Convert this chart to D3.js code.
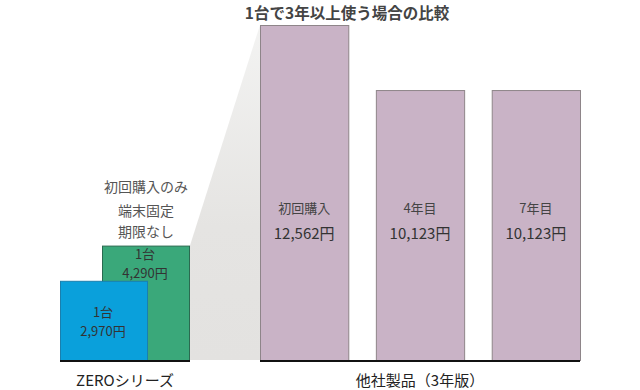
<!DOCTYPE html>
<html>
<head>
<meta charset="utf-8">
<script src="https://cdn.jsdelivr.net/npm/d3@7"></script>
<style>
  body { margin: 0; background: #fff; }
  text { font-family: "Noto Sans CJK JP", "Noto Sans", sans-serif; fill: #333; }
</style>
</head>
<body>
<svg id="chart" width="640" height="390"></svg>
<script>
var zeroKeys = ['blue', 'green'],
    zeroValues = [2970, 4290],
    zeroLabels = ['2,970円', '4,290円'],
    zeroColors = ['#0aa0db', '#3aa87a'],
    zeroStroke = ['#1a7fae', '#2a6a50'];

var otherCats = ['初回購入', '4年目', '7年目'],
    otherValues = [12562, 10123, 10123],
    otherLabels = ['12,562円', '10,123円', '10,123円'];

var svg = d3.select('#chart'),
    base = 360;

var y = d3.scaleLinear()
    .domain([0, 12562])
    .range([base, 25]);

var xZero = d3.scalePoint()
    .domain(zeroKeys)
    .range([60, 102]),
    zeroW = 87;

var xOther = d3.scaleBand()
    .domain(otherCats)
    .range([260, 580])
    .paddingInner(0.238)
    .paddingOuter(0);

// gray connector
var defs = svg.append('defs');
var grad = defs.append('linearGradient')
    .attr('id', 'fade')
    .attr('x1', 0).attr('y1', 0).attr('x2', 0).attr('y2', 1);
grad.append('stop').attr('offset', '0%').attr('stop-color', '#f3f3f2');
grad.append('stop').attr('offset', '60%').attr('stop-color', '#e5e4e2');
grad.append('stop').attr('offset', '100%').attr('stop-color', '#e3e2e0');

var gx = xZero('green') + zeroW + 1,
    px = xOther(otherCats[0]);
svg.append('path')
    .attr('d', 'M' + gx + ',' + y(zeroValues[1]) +
               'L' + px + ',' + y(otherValues[0]) +
               'L' + px + ',' + base +
               'L' + gx + ',' + base + 'Z')
    .attr('fill', 'url(#fade)');

// ZERO bars (green behind blue)
var zeroData = zeroKeys.map(function(k, i) {
    return { key: k, value: zeroValues[i], label: zeroLabels[i], fill: zeroColors[i], stroke: zeroStroke[i] };
}).reverse();

svg.selectAll('.zero')
    .data(zeroData)
  .enter().append('rect')
    .attr('class', 'zero')
    .attr('x', function(d) { return xZero(d.key) + 0.5; })
    .attr('y', function(d) { return y(d.value) + 0.5; })
    .attr('width', zeroW)
    .attr('height', function(d) { return base - y(d.value); })
    .attr('fill', function(d) { return d.fill; })
    .attr('stroke', function(d) { return d.stroke; })
    .attr('stroke-width', 1);

// label offsets: green text hugs its top, blue text sits lower
var zeroText = { blue: { dx: 43, dy: 36 }, green: { dx: 43, dy: 13 } },
    lineGap = 19;

var zt = svg.selectAll('.zero-t')
    .data(zeroData)
  .enter().append('text')
    .attr('class', 'zero-t')
    .attr('text-anchor', 'middle')
    .style('font-size', '13px');

zt.append('tspan')
    .attr('x', function(d) { return xZero(d.key) + zeroText[d.key].dx; })
    .attr('y', function(d) { return y(d.value) + zeroText[d.key].dy; })
    .text('1台');

zt.append('tspan')
    .attr('x', function(d) { return xZero(d.key) + zeroText[d.key].dx; })
    .attr('y', function(d) { return y(d.value) + zeroText[d.key].dy + lineGap; })
    .text(function(d) { return d.label; });

// notes above ZERO
var notes = [['初回購入のみ', 192], ['端末固定', 216], ['期限なし', 237]];
svg.selectAll('.note')
    .data(notes)
  .enter().append('text')
    .attr('class', 'note')
    .attr('x', 146)
    .attr('y', function(d) { return d[1]; })
    .attr('text-anchor', 'middle')
    .style('font-size', '14px')
    .style('fill', '#555')
    .text(function(d) { return d[0]; });

// other bars
var og = svg.selectAll('.other')
    .data(otherCats)
  .enter().append('g')
    .attr('class', 'other');

og.append('rect')
    .attr('x', function(d) { return xOther(d) + 0.5; })
    .attr('y', function(d, i) { return y(otherValues[i]) + 0.5; })
    .attr('width', xOther.bandwidth())
    .attr('height', function(d, i) { return base - y(otherValues[i]); })
    .attr('fill', '#c9b3c6')
    .attr('stroke', '#8e8589')
    .attr('stroke-width', 1);

og.append('text')
    .attr('x', function(d) { return xOther(d) + xOther.bandwidth() / 2; })
    .attr('y', 213)
    .attr('text-anchor', 'middle')
    .style('font-size', '13px')
    .style('fill', '#444')
    .text(function(d) { return d; });

og.append('text')
    .attr('x', function(d) { return xOther(d) + xOther.bandwidth() / 2; })
    .attr('y', 239)
    .attr('text-anchor', 'middle')
    .style('font-size', '15px')
    .text(function(d, i) { return otherLabels[i]; });

// baselines
svg.append('line')
    .attr('x1', xZero('blue')).attr('x2', xZero('green') + zeroW + 1)
    .attr('y1', base + 1).attr('y2', base + 1)
    .attr('stroke', '#111').attr('stroke-width', 2);

svg.append('line')
    .attr('x1', xOther.range()[0]).attr('x2', xOther.range()[1])
    .attr('y1', base + 1).attr('y2', base + 1)
    .attr('stroke', '#111').attr('stroke-width', 2);

// group labels
svg.append('text')
    .attr('x', 125).attr('y', 386)
    .attr('text-anchor', 'middle')
    .style('font-size', '15px')
    .style('fill', '#222')
    .text('ZEROシリーズ');

svg.append('text')
    .attr('x', 420).attr('y', 386)
    .attr('text-anchor', 'middle')
    .style('font-size', '15px')
    .style('fill', '#222')
    .text('他社製品（3年版）');

// title
svg.append('text')
    .attr('x', 347).attr('y', 19)
    .attr('text-anchor', 'middle')
    .style('font-size', '15.5px')
    .style('font-weight', 'bold')
    .style('fill', '#444')
    .text('1台で3年以上使う場合の比較');
</script>
</body>
</html>
